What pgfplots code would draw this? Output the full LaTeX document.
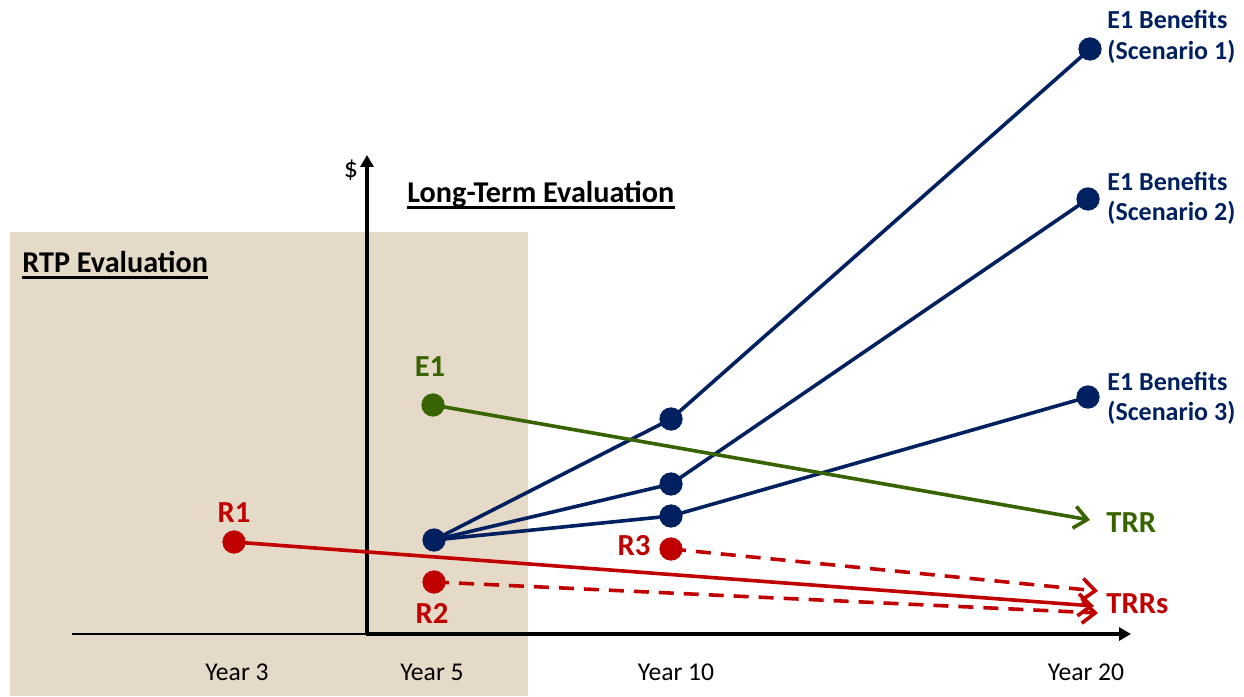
\documentclass[border=0pt]{standalone}
\usepackage{pgfplots}
\pgfplotsset{compat=1.18}
\usetikzlibrary{arrows.meta}
\usepackage{fontspec}
\setmainfont{Carlito}
\definecolor{navy}{RGB}{0,32,96}
\definecolor{dred}{RGB}{192,0,0}
\definecolor{dgreen}{RGB}{56,100,0}
\definecolor{beige}{RGB}{229,217,200}
\tikzset{barb/.style={-{Straight Barb[length=6.5pt,width=11pt]}}}
\begin{document}
\begin{tikzpicture}
\begin{axis}[scale only axis, width=622pt, height=348pt,
  xmin=0, xmax=1244, ymin=0, ymax=696, hide axis, clip=false]
\path (axis cs:0,0) rectangle (axis cs:1244,696);
% shaded region
\fill[beige] (axis cs:10,0) rectangle (axis cs:528,464);
% axes
\draw[line width=1pt] (axis cs:72,62.5) -- (axis cs:367,62.5);
\draw[line width=1.6pt,-{Triangle[length=6pt,width=6.5pt]}] (axis cs:366.2,62) -- (axis cs:1131,62);
\draw[line width=1.6pt,-{Triangle[length=6pt,width=6.5pt]}] (axis cs:367,61.2) -- (axis cs:367,541);
\node[font=\fontsize{14}{16}\selectfont] at (axis cs:351,526) {\$};
% headings
\node[inner sep=0, anchor=base west, font=\fontsize{15.1}{18}\selectfont\bfseries] (lt) at (axis cs:407,493) {Long-Term Evaluation};
\draw[line width=1.5pt] ([yshift=-2.5pt]lt.base west) -- ([yshift=-2.5pt]lt.base east);
\node[inner sep=0, anchor=base west, font=\fontsize{15.1}{18}\selectfont\bfseries] (rtp) at (axis cs:22,423) {RTP Evaluation};
\draw[line width=1.5pt] ([yshift=-2.3pt]rtp.base west) -- ([yshift=-2.3pt]rtp.base east);
% x labels
\begin{scope}[every node/.style={inner sep=0, anchor=base, font=\fontsize{12.8}{15}\selectfont}]
\node at (axis cs:237,16) {Year 3};
\node at (axis cs:432,16) {Year 5};
\node at (axis cs:676,16) {Year 10};
\node at (axis cs:1086,16) {Year 20};
\end{scope}
% blue lines
\addplot[navy, line width=1.8pt] coordinates {(434,156) (671,277) (1090,647)};
\addplot[navy, line width=1.8pt] coordinates {(434,156) (671,212) (1088,497)};
\addplot[navy, line width=1.8pt] coordinates {(434,156) (671,180) (1088,299)};
% green line
\addplot[dgreen, line width=1.8pt, barb] coordinates {(433,291) (1090,176)};
% red lines
\addplot[dred, line width=1.8pt, barb] coordinates {(234,154) (1094,90)};
\addplot[dred, line width=1.8pt, barb, dash pattern=on 7.5pt off 5pt] coordinates {(434,114) (1098,83)};
\addplot[dred, line width=1.8pt, barb, dash pattern=on 7.5pt off 5pt] coordinates {(671,147) (1098,105)};
% marks
\addplot[only marks, mark=*, mark size=5.6pt, navy, mark options={solid, fill=navy, draw=navy}] coordinates {(434,156) (671,277) (671,212) (671,180) (1090,647) (1088,497) (1088,299)};
\addplot[only marks, mark=*, mark size=5.6pt, dgreen, mark options={solid, fill=dgreen, draw=dgreen}] coordinates {(433,291)};
\addplot[only marks, mark=*, mark size=5.6pt, dred, mark options={solid, fill=dred, draw=dred}] coordinates {(234,154) (434,114) (671,147)};
% labels
\begin{scope}[every node/.style={inner sep=0, font=\fontsize{15.3}{18}\selectfont\bfseries}]
\node[anchor=base, dgreen] at (axis cs:430,320) {E1};
\node[anchor=base, dred] at (axis cs:234,174) {R1};
\node[anchor=base, dred] at (axis cs:432,73) {R2};
\node[anchor=base, dred] at (axis cs:634,141) {R3};
\node[anchor=base west, dgreen] at (axis cs:1106,164) {TRR};
\node[anchor=base west, dred] at (axis cs:1106,83) {TRRs};
\end{scope}
\begin{scope}[every node/.style={inner sep=0, anchor=base west, navy, font=\fontsize{13}{16}\selectfont\bfseries}]
\node at (axis cs:1107,667) {E1 Benefits};
\node at (axis cs:1107,636) {(Scenario 1)};
\node at (axis cs:1107,505) {E1 Benefits};
\node at (axis cs:1107,475) {(Scenario 2)};
\node at (axis cs:1107,306) {E1 Benefits};
\node at (axis cs:1107,276) {(Scenario 3)};
\end{scope}
\end{axis}
\end{tikzpicture}
\end{document}
